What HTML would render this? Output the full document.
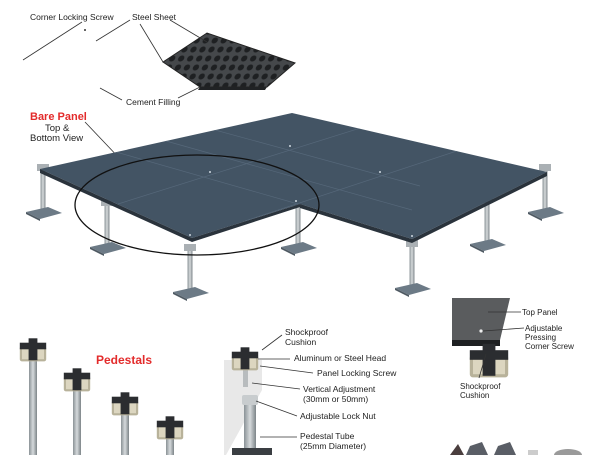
<!DOCTYPE html>
<html><head><meta charset="utf-8"><style>
html,body{margin:0;padding:0;background:#fff;}
svg{display:block;font-family:"Liberation Sans",sans-serif;}
</style></head><body>
<svg width="600" height="455" viewBox="0 0 600 455" xmlns="http://www.w3.org/2000/svg">
<defs>
<pattern id="holes" width="9" height="9" patternUnits="userSpaceOnUse" patternTransform="skewX(-20)">
<rect width="9" height="9" fill="#45484b"/>
<circle cx="4.5" cy="4.5" r="3" fill="#1e2022"/>
</pattern>
<linearGradient id="tube" x1="0" x2="1"><stop offset="0" stop-color="#8a9296"/><stop offset=".5" stop-color="#d6dadc"/><stop offset="1" stop-color="#7c8488"/></linearGradient>
<clipPath id="fl"><polygon points="40,169 292,113 547,172 412,239 300,204 192,238"/></clipPath>
<g id="ped">
<rect x="-2.5" y="-30" width="5" height="46" fill="url(#tube)"/>
<rect x="-6" y="-34" width="12" height="7" fill="#aab0b4"/>
<polygon points="-17,14 5,9 19,15 -3,21" fill="#6c7a86"/>
<polygon points="-17,14 -3,21 -3,23 -17,16" fill="#4f5a63"/>
</g>
<g id="head">
<rect x="-12" y="0" width="24" height="14" rx="2" fill="#b8b29a"/>
<rect x="-10" y="2" width="7" height="10" fill="#dcd6c0"/>
<rect x="3" y="2" width="7" height="10" fill="#dcd6c0"/>
<rect x="-4" y="-7" width="8" height="20" fill="#2b2d30"/>
<rect x="-12" y="-3" width="24" height="6" fill="#2b2d30"/>
</g>
</defs>

<polygon points="163,62 207,33 295,63 267,87 200,87" fill="url(#holes)" stroke="#222" stroke-width="1"/>
<polygon points="200,87 267,87 265,90 198,90" fill="#202224"/>
<g stroke="#333" stroke-width="0.8" fill="none">
<line x1="82" y1="22" x2="23" y2="60"/>
<line x1="130" y1="20" x2="96" y2="41"/>
<line x1="140" y1="24" x2="163" y2="62"/>
<line x1="170" y1="20" x2="207" y2="42"/>
<line x1="122" y1="100" x2="100" y2="88"/>
<line x1="178" y1="98" x2="200" y2="87"/>
<line x1="85" y1="122" x2="140" y2="180"/>
</g>
<circle cx="85" cy="30" r="1" fill="#333"/>
<text x="30" y="20" font-size="8.5" fill="#222">Corner Locking Screw</text>
<text x="132" y="20" font-size="8.5" fill="#222">Steel Sheet</text>
<text x="126" y="105" font-size="8.5" fill="#222">Cement Filling</text>
<text x="30" y="120" font-size="11" font-weight="bold" fill="#e32b2b">Bare Panel</text>
<text x="45" y="131" font-size="9.5" fill="#222">Top &amp;</text>
<text x="30" y="141" font-size="9.5" fill="#222">Bottom View</text>

<use href="#ped" x="43" y="198"/>
<use href="#ped" x="107" y="233"/>
<use href="#ped" x="190" y="278"/>
<use href="#ped" x="298" y="233"/>
<use href="#ped" x="412" y="274"/>
<use href="#ped" x="487" y="230"/>
<use href="#ped" x="545" y="198"/>

<polygon points="40,169 292,113 547,172 412,239 300,204 192,238" fill="#435464"/>
<polygon points="192,238 300,204 300,207 192,242" fill="#2a333c"/>
<polygon points="300,204 412,239 412,243 300,208" fill="#2a333c"/>
<polygon points="412,239 547,172 547,176 412,243" fill="#2a333c"/>
<polygon points="40,169 192,238 192,242 40,173" fill="#2a333c"/>
<g stroke="#56687a" stroke-width="0.7" clip-path="url(#fl)">
<line x1="116" y1="152" x2="298" y2="204"/>
<line x1="166" y1="141" x2="412" y2="210"/>
<line x1="118" y1="204" x2="370" y2="125"/>
<line x1="245" y1="221" x2="478" y2="144"/>
<line x1="204" y1="127" x2="420" y2="186"/>
</g>
<g fill="#cfd8e0">
<circle cx="210" cy="172" r="1"/><circle cx="290" cy="146" r="1"/><circle cx="380" cy="172" r="1"/>
<circle cx="296" cy="201" r="1"/><circle cx="412" cy="236" r="1"/><circle cx="190" cy="235" r="1"/>
</g>
<ellipse cx="197" cy="205" rx="122" ry="50" fill="none" stroke="#111" stroke-width="1.3"/>

<g>
<rect x="29" y="360" width="8" height="95" fill="url(#tube)"/><g transform="translate(33,346) scale(1.1)"><use href="#head"/></g>
<rect x="73" y="388" width="8" height="67" fill="url(#tube)"/><g transform="translate(77,376) scale(1.1)"><use href="#head"/></g>
<rect x="121" y="412" width="8" height="43" fill="url(#tube)"/><g transform="translate(125,400) scale(1.1)"><use href="#head"/></g>
<rect x="166" y="432" width="8" height="23" fill="url(#tube)"/><g transform="translate(170,424) scale(1.1)"><use href="#head"/></g>
</g>
<text x="96" y="364" font-size="12" font-weight="bold" fill="#e32b2b">Pedestals</text>

<polygon points="224,360 262,360 262,390 226,455 224,455" fill="#e8e8e8"/>
<rect x="243" y="365" width="5" height="22" fill="#b8bcbe"/>
<rect x="244" y="400" width="12" height="55" fill="url(#tube)"/>
<rect x="242" y="395" width="16" height="10" rx="2" fill="#c8ccce"/>
<g transform="translate(245,355) scale(1.1)"><use href="#head"/></g>
<rect x="232" y="448" width="40" height="7" fill="#3a3e42"/>
<g stroke="#333" stroke-width="0.8">
<line x1="282" y1="335" x2="262" y2="350"/>
<line x1="290" y1="359" x2="258" y2="359"/>
<line x1="313" y1="373" x2="260" y2="366"/>
<line x1="300" y1="389" x2="252" y2="383"/>
<line x1="297" y1="416" x2="256" y2="401"/>
<line x1="297" y1="437" x2="260" y2="437"/>
</g>
<g font-size="8.5" fill="#222">
<text x="285" y="335">Shockproof</text><text x="285" y="345">Cushion</text>
<text x="294" y="361">Aluminum or Steel Head</text>
<text x="317" y="376">Panel Locking Screw</text>
<text x="303" y="392">Vertical Adjustment</text><text x="303" y="402">(30mm or 50mm)</text>
<text x="300" y="419">Adjustable Lock Nut</text>
<text x="300" y="439">Pedestal Tube</text><text x="300" y="449">(25mm Diameter)</text>
</g>

<polygon points="452,298 510,298 500,340 452,340" fill="#5a5c5e"/>
<rect x="452" y="340" width="48" height="6" fill="#1e2022"/>
<circle cx="481" cy="331" r="1.6" fill="#eee"/>
<g transform="translate(489,355) scale(1.6)"><use href="#head"/></g>
<g stroke="#333" stroke-width="0.8">
<line x1="488" y1="312" x2="521" y2="312"/>
<line x1="483" y1="331" x2="524" y2="328"/>
<line x1="479" y1="378" x2="486" y2="354"/>
</g>
<g font-size="8" fill="#222">
<text x="522" y="315">Top Panel</text>
<text x="525" y="331">Adjustable</text><text x="525" y="340">Pressing</text><text x="525" y="349">Corner Screw</text>
<text x="460" y="389">Shockproof</text><text x="460" y="398">Cushion</text>
</g>
<polygon points="450,455 458,444 464,455" fill="#4a3e3e"/>
<polygon points="466,455 470,446 482,442 488,455" fill="#5a5e66"/>
<polygon points="494,455 498,446 510,442 516,455" fill="#5a5e66"/>
<rect x="528" y="450" width="10" height="5" fill="#ccc"/>
<ellipse cx="568" cy="455" rx="14" ry="6" fill="#9a9a9a"/>
</svg>
</body></html>
